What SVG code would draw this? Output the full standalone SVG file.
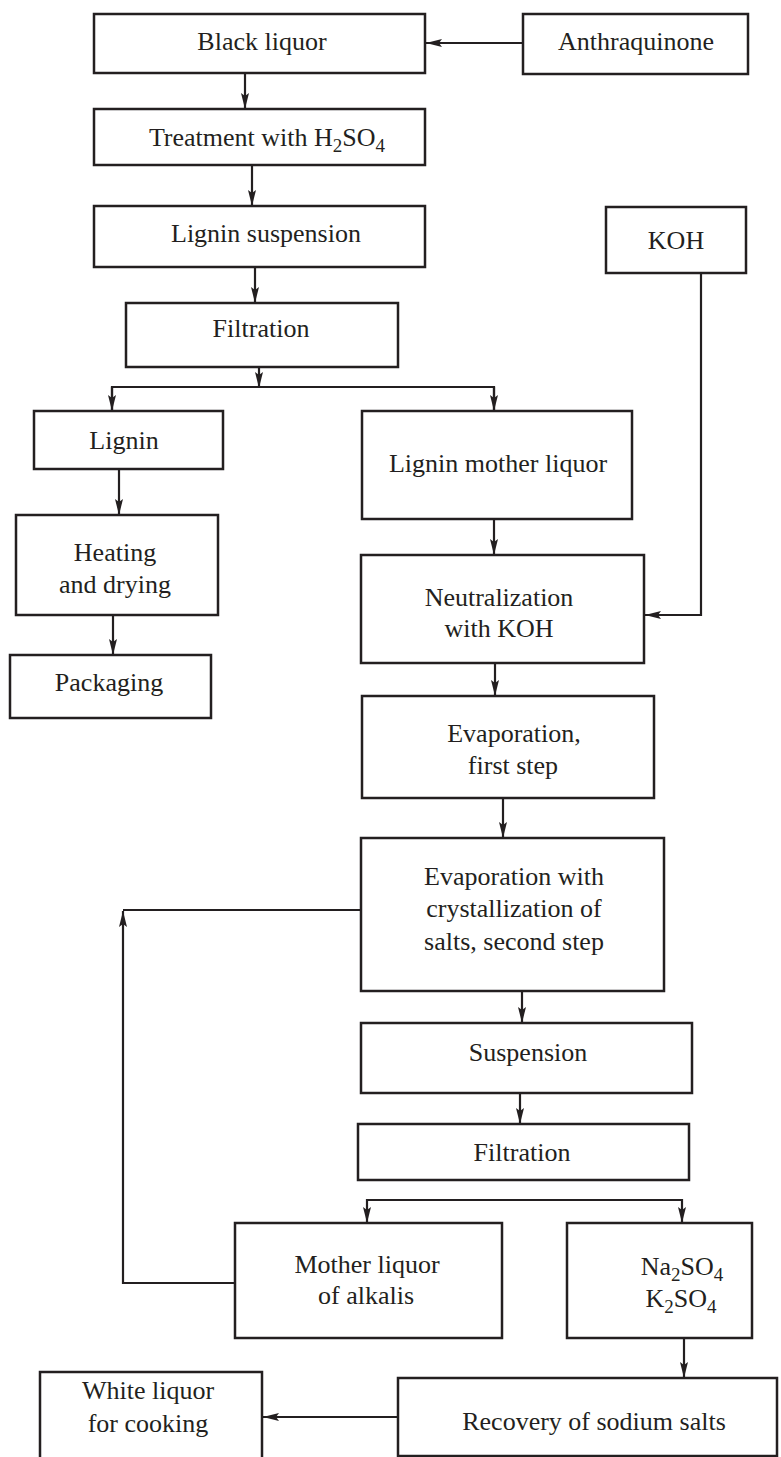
<svg xmlns="http://www.w3.org/2000/svg" width="781" height="1457" viewBox="0 0 781 1457">
<style>
.box{fill:#fff;stroke:#231f20;stroke-width:2.5}
.t{font-family:"Liberation Serif","Times New Roman",serif;font-size:26px;fill:#231f20;text-anchor:middle}
.sub{font-size:19px}
.c{fill:none;stroke:#231f20;stroke-width:2.2}
.thin{stroke-width:1.8}
</style>
<defs>
<marker id="ah" viewBox="0 0 16 8" refX="16" refY="4" markerWidth="16" markerHeight="8" orient="auto" markerUnits="userSpaceOnUse">
<path d="M0,0 L16,4 L0,8 L3,4 Z" fill="#231f20"/>
</marker>
</defs>
<rect width="781" height="1457" fill="#fff"/>
<g id="connectors">
<line class="c" x1="523" y1="43" x2="426" y2="43" marker-end="url(#ah)"/>
<line class="c" x1="245" y1="73" x2="245" y2="109" marker-end="url(#ah)"/>
<line class="c" x1="252" y1="165" x2="252" y2="206" marker-end="url(#ah)"/>
<line class="c" x1="255" y1="267" x2="255" y2="303" marker-end="url(#ah)"/>
<line class="c" x1="259" y1="367" x2="259" y2="388" marker-end="url(#ah)"/>
<polyline class="c" points="112,411 112,387 494,387 494,411" />
<line class="c" x1="112" y1="387" x2="112" y2="411" marker-end="url(#ah)"/>
<line class="c" x1="494" y1="387" x2="494" y2="411" marker-end="url(#ah)"/>
<line class="c" x1="119" y1="469" x2="119" y2="515" marker-end="url(#ah)"/>
<line class="c" x1="113" y1="615" x2="113" y2="655" marker-end="url(#ah)"/>
<polyline class="c" points="701,273 701,615 645,615" marker-end="url(#ah)"/>
<line class="c" x1="494" y1="519" x2="494" y2="555" marker-end="url(#ah)"/>
<line class="c" x1="495" y1="663" x2="495" y2="696" marker-end="url(#ah)"/>
<line class="c" x1="503" y1="798" x2="503" y2="838" marker-end="url(#ah)"/>
<line class="c thin" x1="361" y1="910" x2="123" y2="910"/>
<polyline class="c" points="236,1283 123,1283 123,911" marker-end="url(#ah)"/>
<line class="c" x1="522" y1="991" x2="522" y2="1023" marker-end="url(#ah)"/>
<line class="c" x1="520" y1="1093" x2="520" y2="1124" marker-end="url(#ah)"/>
<line class="c" x1="367" y1="1200" x2="682" y2="1200"/>
<line class="c" x1="367" y1="1199" x2="367" y2="1223" marker-end="url(#ah)"/>
<line class="c" x1="682" y1="1199" x2="682" y2="1223" marker-end="url(#ah)"/>
<line class="c" x1="684" y1="1338" x2="684" y2="1378" marker-end="url(#ah)"/>
<line class="c" x1="398" y1="1417" x2="263" y2="1417" marker-end="url(#ah)"/>
</g>
<g id="black-liquor"><rect class="box" x="94" y="14" width="331" height="59"/><text class="t" x="262" y="50">Black liquor</text></g>
<g id="anthraquinone"><rect class="box" x="523" y="14" width="225" height="60"/><text class="t" x="636" y="50">Anthraquinone</text></g>
<g id="treatment"><rect class="box" x="94" y="109" width="331" height="56"/><text class="t" x="267" y="146">Treatment with H<tspan class="sub" dy="6">2</tspan><tspan dy="-6">SO</tspan><tspan class="sub" dy="6">4</tspan></text></g>
<g id="lignin-suspension"><rect class="box" x="94" y="206" width="331" height="61"/><text class="t" x="266" y="242">Lignin suspension</text></g>
<g id="filtration1"><rect class="box" x="126" y="303" width="272" height="64"/><text class="t" x="261" y="337">Filtration</text></g>
<g id="koh"><rect class="box" x="606" y="207" width="140" height="66"/><text class="t" x="676" y="249">KOH</text></g>
<g id="lignin"><rect class="box" x="34" y="411" width="189" height="58"/><text class="t" x="124" y="449">Lignin</text></g>
<g id="lignin-mother-liquor"><rect class="box" x="362" y="411" width="270" height="108"/><text class="t" x="498" y="472">Lignin mother liquor</text></g>
<g id="heating"><rect class="box" x="16" y="515" width="202" height="100"/><text class="t" x="115" y="561">Heating</text><text class="t" x="115" y="593">and drying</text></g>
<g id="packaging"><rect class="box" x="10" y="655" width="201" height="63"/><text class="t" x="109" y="691">Packaging</text></g>
<g id="neutralization"><rect class="box" x="361" y="555" width="283" height="108"/><text class="t" x="499" y="606">Neutralization</text><text class="t" x="499" y="637">with KOH</text></g>
<g id="evaporation1"><rect class="box" x="362" y="696" width="292" height="102"/><text class="t" x="514" y="742">Evaporation,</text><text class="t" x="513" y="774">first step</text></g>
<g id="evaporation2"><rect class="box" x="361" y="838" width="303" height="153"/><text class="t" x="514" y="885">Evaporation with</text><text class="t" x="514" y="917">crystallization of</text><text class="t" x="514" y="950">salts, second step</text></g>
<g id="suspension"><rect class="box" x="361" y="1023" width="331" height="70"/><text class="t" x="528" y="1061">Suspension</text></g>
<g id="filtration2"><rect class="box" x="358" y="1124" width="331" height="56"/><text class="t" x="522" y="1161">Filtration</text></g>
<g id="mother-liquor-alkalis"><rect class="box" x="235" y="1223" width="267" height="115"/><text class="t" x="367" y="1273">Mother liquor</text><text class="t" x="366" y="1304">of alkalis</text></g>
<g id="sulfates"><rect class="box" x="567" y="1223" width="185" height="115"/><text class="t" x="682" y="1275">Na<tspan class="sub" dy="6">2</tspan><tspan dy="-6">SO</tspan><tspan class="sub" dy="6">4</tspan></text><text class="t" x="681" y="1307">K<tspan class="sub" dy="6">2</tspan><tspan dy="-6">SO</tspan><tspan class="sub" dy="6">4</tspan></text></g>
<g id="recovery"><rect class="box" x="398" y="1378" width="379" height="78"/><text class="t" x="594" y="1430">Recovery of sodium salts</text></g>
<g id="white-liquor"><rect class="box" x="40" y="1372" width="222" height="100"/><text class="t" x="148" y="1399">White liquor</text><text class="t" x="148" y="1432">for cooking</text></g>
</svg>
